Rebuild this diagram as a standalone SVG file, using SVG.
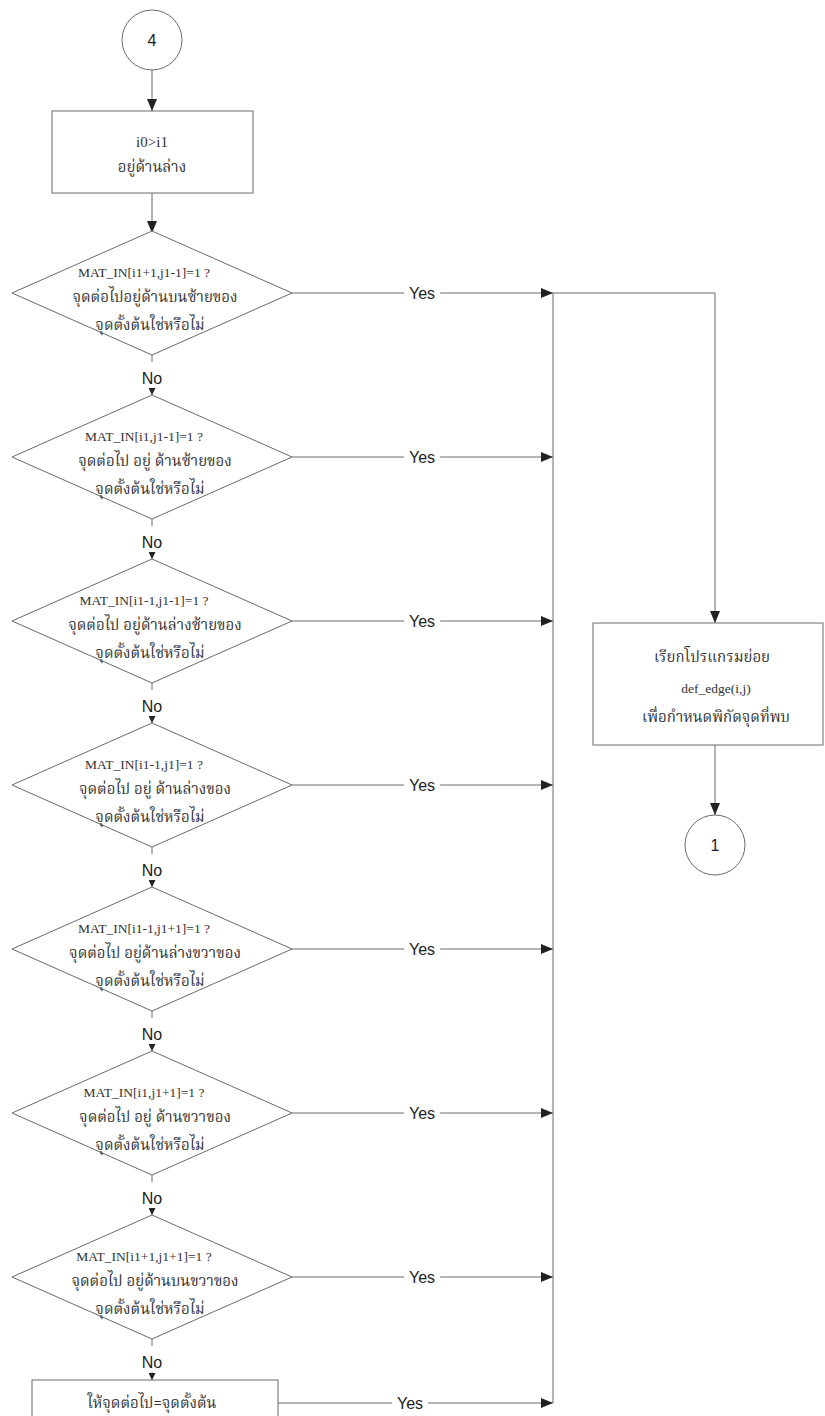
<svg xmlns="http://www.w3.org/2000/svg" width="825" height="1416" viewBox="0 0 825 1416">
  <defs>
    <style>
      .shape { fill: #ffffff; stroke: #6a6a6a; stroke-width: 1; }
      .line { fill: none; stroke: #6a6a6a; stroke-width: 1; }
      .lbl { font-family: "Liberation Sans", Arial, sans-serif; font-size: 16px; fill: #222222; text-anchor: middle; }
      .code { font-family: "Liberation Serif", "Times New Roman", serif; font-size: 13.5px; fill: #333333; text-anchor: middle; }
      .thai { font-family: "Norasi", "Kinnari", "Noto Serif Thai", "Noto Sans Thai Looped", "Noto Sans Thai", "Noto Sans", "DejaVu Sans", sans-serif; font-size: 15px; fill: #333333; text-anchor: middle; }
    </style>
    <marker id="bigArrow" viewBox="0 0 12 10" refX="12" refY="5" markerWidth="12" markerHeight="10" markerUnits="userSpaceOnUse" orient="auto">
      <path d="M0,0 L12,5 L0,10 Z" fill="#222222"/>
    </marker>
    <marker id="smallArrow" viewBox="0 0 8 8" refX="8" refY="4" markerWidth="7" markerHeight="7" markerUnits="userSpaceOnUse" orient="auto">
      <path d="M0,0 L8,4 L0,8 Z" fill="#222222"/>
    </marker>
  </defs>
  <rect width="825" height="1416" fill="#ffffff"/>

  <!-- connectors -->
  <g id="connectors">
    <line class="line" x1="152" y1="70" x2="152" y2="111" marker-end="url(#bigArrow)"/>
    <line class="line" x1="152" y1="193" x2="152" y2="233" marker-end="url(#bigArrow)"/>

    <!-- No branches between the decisions -->
    <line class="line" x1="152" y1="355" x2="152" y2="362"/>
    <line class="line" x1="152" y1="388" x2="152" y2="395" marker-end="url(#smallArrow)"/>
    <line class="line" x1="152" y1="519" x2="152" y2="526"/>
    <line class="line" x1="152" y1="552" x2="152" y2="559" marker-end="url(#smallArrow)"/>
    <line class="line" x1="152" y1="683" x2="152" y2="690"/>
    <line class="line" x1="152" y1="716" x2="152" y2="723" marker-end="url(#smallArrow)"/>
    <line class="line" x1="152" y1="847" x2="152" y2="854"/>
    <line class="line" x1="152" y1="880" x2="152" y2="887" marker-end="url(#smallArrow)"/>
    <line class="line" x1="152" y1="1011" x2="152" y2="1018"/>
    <line class="line" x1="152" y1="1044" x2="152" y2="1051" marker-end="url(#smallArrow)"/>
    <line class="line" x1="152" y1="1175" x2="152" y2="1182"/>
    <line class="line" x1="152" y1="1208" x2="152" y2="1215" marker-end="url(#smallArrow)"/>
    <line class="line" x1="152" y1="1339" x2="152" y2="1346"/>
    <line class="line" x1="152" y1="1372" x2="152" y2="1380" marker-end="url(#smallArrow)"/>
    <text class="lbl" x="152" y="384">No</text>
    <text class="lbl" x="152" y="548">No</text>
    <text class="lbl" x="152" y="712">No</text>
    <text class="lbl" x="152" y="876">No</text>
    <text class="lbl" x="152" y="1040">No</text>
    <text class="lbl" x="152" y="1204">No</text>
    <text class="lbl" x="152" y="1368">No</text>

    <!-- Yes branches to the collector line -->
    <line class="line" x1="292" y1="293" x2="404" y2="293"/>
    <line class="line" x1="440" y1="293" x2="553" y2="293" marker-end="url(#bigArrow)"/>
    <line class="line" x1="292" y1="457" x2="404" y2="457"/>
    <line class="line" x1="440" y1="457" x2="553" y2="457" marker-end="url(#bigArrow)"/>
    <line class="line" x1="292" y1="621" x2="404" y2="621"/>
    <line class="line" x1="440" y1="621" x2="553" y2="621" marker-end="url(#bigArrow)"/>
    <line class="line" x1="292" y1="785" x2="404" y2="785"/>
    <line class="line" x1="440" y1="785" x2="553" y2="785" marker-end="url(#bigArrow)"/>
    <line class="line" x1="292" y1="949" x2="404" y2="949"/>
    <line class="line" x1="440" y1="949" x2="553" y2="949" marker-end="url(#bigArrow)"/>
    <line class="line" x1="292" y1="1113" x2="404" y2="1113"/>
    <line class="line" x1="440" y1="1113" x2="553" y2="1113" marker-end="url(#bigArrow)"/>
    <line class="line" x1="292" y1="1277" x2="404" y2="1277"/>
    <line class="line" x1="440" y1="1277" x2="553" y2="1277" marker-end="url(#bigArrow)"/>
    <line class="line" x1="278" y1="1403" x2="392" y2="1403"/>
    <line class="line" x1="428" y1="1403" x2="553" y2="1403" marker-end="url(#bigArrow)"/>
    <text class="lbl" x="422" y="299">Yes</text>
    <text class="lbl" x="422" y="463">Yes</text>
    <text class="lbl" x="422" y="627">Yes</text>
    <text class="lbl" x="422" y="791">Yes</text>
    <text class="lbl" x="422" y="955">Yes</text>
    <text class="lbl" x="422" y="1119">Yes</text>
    <text class="lbl" x="422" y="1283">Yes</text>
    <text class="lbl" x="410" y="1409">Yes</text>

    <!-- collector line up to the sub-program call -->
    <line class="line" x1="553" y1="1403" x2="553" y2="293"/>
    <polyline class="line" points="553,293 715,293 715,623" marker-end="url(#bigArrow)"/>
    <line class="line" x1="715" y1="745" x2="715" y2="815" marker-end="url(#bigArrow)"/>
  </g>

  <!-- connector 4 -->
  <g id="start4">
    <circle class="shape" cx="152" cy="40" r="30"/>
    <text class="lbl" x="152" y="46">4</text>
  </g>

  <g id="boxBelow">
    <rect class="shape" x="52" y="111" width="201" height="82"/>
    <text class="code" x="152" y="147" style="font-size:15px">i0&gt;i1</text>
    <text class="thai" x="152" y="172">อยู่ด้านล่าง</text>
  </g>

  <g id="dec1">
    <polygon class="shape" points="152,231 292,293 152,355 12,293"/>
    <text class="code" x="144" y="277">MAT_IN[i1+1,j1-1]=1 ?</text>
    <text class="thai" x="155" y="302">จุดต่อไปอยู่ด้านบนซ้ายของ</text>
    <text class="thai" x="150" y="330">จุดตั้งต้นใช่หรือไม่</text>
  </g>

  <g id="dec2">
    <polygon class="shape" points="152,395 292,457 152,519 12,457"/>
    <text class="code" x="144" y="441">MAT_IN[i1,j1-1]=1 ?</text>
    <text class="thai" x="155" y="466">จุดต่อไป อยู่ ด้านซ้ายของ</text>
    <text class="thai" x="150" y="494">จุดตั้งต้นใช่หรือไม่</text>
  </g>

  <g id="dec3">
    <polygon class="shape" points="152,559 292,621 152,683 12,621"/>
    <text class="code" x="144" y="605">MAT_IN[i1-1,j1-1]=1 ?</text>
    <text class="thai" x="155" y="630">จุดต่อไป อยู่ด้านล่างซ้ายของ</text>
    <text class="thai" x="150" y="658">จุดตั้งต้นใช่หรือไม่</text>
  </g>

  <g id="dec4">
    <polygon class="shape" points="152,723 292,785 152,847 12,785"/>
    <text class="code" x="144" y="769">MAT_IN[i1-1,j1]=1 ?</text>
    <text class="thai" x="155" y="794">จุดต่อไป อยู่ ด้านล่างของ</text>
    <text class="thai" x="150" y="822">จุดตั้งต้นใช่หรือไม่</text>
  </g>

  <g id="dec5">
    <polygon class="shape" points="152,887 292,949 152,1011 12,949"/>
    <text class="code" x="144" y="933">MAT_IN[i1-1,j1+1]=1 ?</text>
    <text class="thai" x="155" y="958">จุดต่อไป อยู่ด้านล่างขวาของ</text>
    <text class="thai" x="150" y="986">จุดตั้งต้นใช่หรือไม่</text>
  </g>

  <g id="dec6">
    <polygon class="shape" points="152,1051 292,1113 152,1175 12,1113"/>
    <text class="code" x="144" y="1097">MAT_IN[i1,j1+1]=1 ?</text>
    <text class="thai" x="155" y="1122">จุดต่อไป อยู่ ด้านขวาของ</text>
    <text class="thai" x="150" y="1150">จุดตั้งต้นใช่หรือไม่</text>
  </g>

  <g id="dec7">
    <polygon class="shape" points="152,1215 292,1277 152,1339 12,1277"/>
    <text class="code" x="144" y="1261">MAT_IN[i1+1,j1+1]=1 ?</text>
    <text class="thai" x="155" y="1286">จุดต่อไป อยู่ด้านบนขวาของ</text>
    <text class="thai" x="150" y="1314">จุดตั้งต้นใช่หรือไม่</text>
  </g>

  <g id="boxSame">
    <rect class="shape" x="32" y="1380" width="246" height="50"/>
    <text class="thai" x="152" y="1408">ให้จุดต่อไป=จุดตั้งต้น</text>
  </g>

  <g id="callDefEdge">
    <rect class="shape" x="593" y="623" width="230" height="122"/>
    <text class="thai" x="712" y="662">เรียกโปรแกรมย่อย</text>
    <text class="code" x="716" y="693">def_edge(i,j)</text>
    <text class="thai" x="716" y="722">เพื่อกำหนดพิกัดจุดที่พบ</text>
  </g>

  <!-- connector 1 -->
  <g id="end1">
    <circle class="shape" cx="715" cy="845" r="30"/>
    <text class="lbl" x="715" y="851">1</text>
  </g>
</svg>
